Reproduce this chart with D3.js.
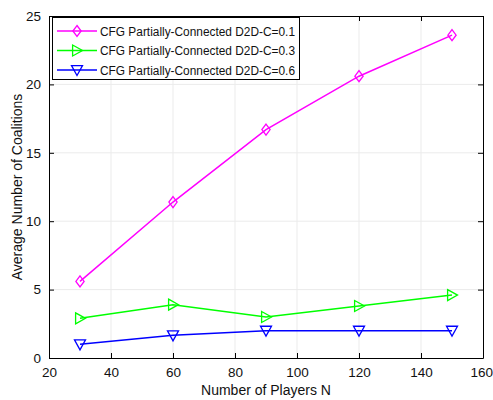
<!DOCTYPE html>
<html><head><meta charset="utf-8">
<script src="https://cdn.jsdelivr.net/npm/d3@7"></script>
<style>body{margin:0;background:#fff}svg{display:block}text{font-family:"Liberation Sans",Arial,sans-serif}</style>
</head><body>
<svg id="c" width="493" height="400"></svg>
<script>
const players = [30, 60, 90, 120, 150];
const seriesNames = ["CFG Partially-Connected D2D-C=0.1","CFG Partially-Connected D2D-C=0.3","CFG Partially-Connected D2D-C=0.6"];
const c01 = [5.6, 11.4, 16.7, 20.6, 23.6];
const c03 = [2.9, 3.9, 3.0, 3.8, 4.6];
const c06 = [1.0, 1.66, 2.0, 2.0, 2.0];
const xTicks = [20, 40, 60, 80, 100, 120, 140, 160];
const yTicks = [0, 5, 10, 15, 20, 25];
const colors = ["#ff00ff", "#00ff00", "#0000ff"];
const markers = ["diamond", "right", "down"];

const svg = d3.select("#c");
const L = 49, R = 483, T = 16, B = 358;
const x = d3.scaleLinear().domain([20, 160]).range([L, R]);
const y = d3.scaleLinear().domain([0, 25]).range([B, T]);

// grid
const g = svg.append("g");
g.selectAll(".gx").data(xTicks.slice(1, -1)).enter().append("line")
  .attr("x1", d => x(d)).attr("x2", d => x(d)).attr("y1", T).attr("y2", B)
  .attr("stroke", "#ebebeb").attr("stroke-width", 1);
g.selectAll(".gy").data(yTicks.slice(1, -1)).enter().append("line")
  .attr("y1", d => y(d)).attr("y2", d => y(d)).attr("x1", L).attr("x2", R)
  .attr("stroke", "#ebebeb").attr("stroke-width", 1);

// axes
const ax = svg.append("g").attr("transform", `translate(0,${B})`)
  .call(d3.axisBottom(x).tickValues(xTicks).tickSize(-5).tickPadding(9).tickSizeOuter(0));
const axT = svg.append("g").attr("transform", `translate(0,${T})`)
  .call(d3.axisTop(x).tickValues(xTicks).tickSize(-5).tickFormat("").tickSizeOuter(0));
const ay = svg.append("g").attr("transform", `translate(${L},0)`)
  .call(d3.axisLeft(y).tickValues(yTicks).tickSize(-5).tickPadding(8).tickSizeOuter(0));
const ayR = svg.append("g").attr("transform", `translate(${R},0)`)
  .call(d3.axisRight(y).tickValues(yTicks).tickSize(-5).tickFormat("").tickSizeOuter(0));
[ax, axT, ay, ayR].forEach(a => {
  a.selectAll("path").attr("stroke", "#000").attr("stroke-width", 1);
  a.selectAll("line").attr("stroke", "#000");
  a.selectAll("text").attr("font-size", 13.5).attr("fill", "#111").attr("font-family", "Liberation Sans, Arial, sans-serif");
});
ax.selectAll(".tick").filter(d => d === 160).select("text").attr("text-anchor", "end").attr("dx", 9.5);

// labels
svg.append("text").attr("x", (L + R) / 2).attr("y", 395).attr("text-anchor", "middle")
  .attr("font-size", 14).attr("fill", "#111").text("Number of Players N");
svg.append("text").attr("transform", `translate(22,${(T + B) / 2}) rotate(-90)`).attr("text-anchor", "middle")
  .attr("font-size", 14).attr("fill", "#111").text("Average Number of Coalitions");

function marker(sel, type, color, cx, cy) {
  const s = 5.5;
  let p;
  if (type === "diamond") p = [[cx, cy - s], [cx + s * 0.75, cy], [cx, cy + s], [cx - s * 0.75, cy]];
  else if (type === "right") p = [[cx - s * 0.8, cy - s], [cx + s, cy], [cx - s * 0.8, cy + s]];
  else p = [[cx - s, cy - s * 0.8], [cx + s, cy - s * 0.8], [cx, cy + s]];
  sel.append("polygon").attr("points", p.map(q => q.join(",")).join(" "))
    .attr("fill", "none").attr("stroke", color).attr("stroke-width", 1.3);
}

const all = [c01, c03, c06];
all.forEach((vals, i) => {
  const line = d3.line().x((d, j) => x(players[j])).y(d => y(d));
  svg.append("path").datum(vals).attr("d", line).attr("fill", "none")
    .attr("stroke", colors[i]).attr("stroke-width", 1.5);
  const mg = svg.append("g");
  vals.forEach((v, j) => marker(mg, markers[i], colors[i], x(players[j]), y(v)));
});

// legend
const lg = svg.append("g");
lg.append("rect").attr("x", 52.5).attr("y", 17.5).attr("width", 247).attr("height", 62)
  .attr("fill", "#fff").attr("stroke", "#000").attr("stroke-width", 1);
seriesNames.forEach((n, i) => {
  const ly = 31 + i * 19.5;
  lg.append("line").attr("x1", 57).attr("x2", 97).attr("y1", ly).attr("y2", ly)
    .attr("stroke", colors[i]).attr("stroke-width", 1.5);
  marker(lg, markers[i], colors[i], 77, ly);
  lg.append("text").attr("x", 100).attr("y", ly + 4.5).attr("font-size", 12.5)
    .attr("textLength", 195).attr("lengthAdjust", "spacingAndGlyphs").attr("fill", "#111").text(n);
});
</script>
</body></html>
